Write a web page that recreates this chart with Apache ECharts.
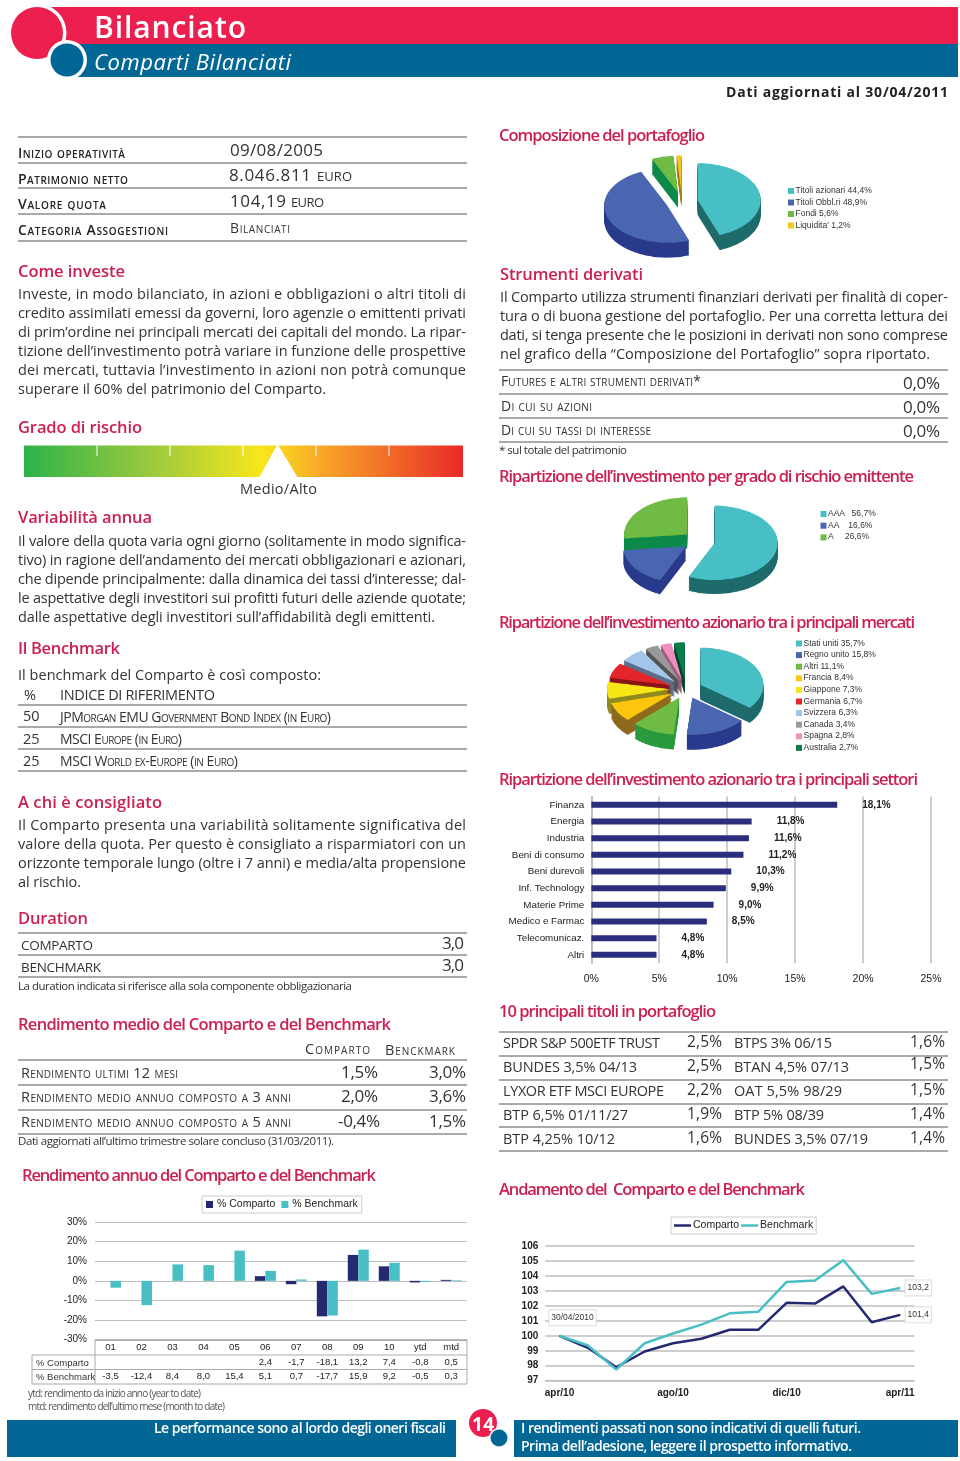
<!DOCTYPE html>
<html>
<head>
<meta charset="utf-8">
<title>Bilanciato</title>
<script src="https://cdn.jsdelivr.net/npm/echarts@6/dist/echarts.min.js"></script>
<style>
body { margin: 0; background: #fff; }
#page { position: relative; width: 960px; height: 1461px; overflow: hidden; background: #fff; }
#main { position: absolute; left: 0; top: 0; width: 960px; height: 1461px; }
.pie { position: absolute; width: 240px; height: 260px; transform-origin: 0 0; pointer-events: none; }
.t { position: absolute; white-space: pre; transform: translateY(-50%); font-family: "Open Sans", sans-serif; font-size: 14.5px; color: #333; line-height: 1.1; }
.h { font-size: 16.5px; font-weight: 600; color: #cc2050; }
.sc { font-variant: small-caps; font-size: 14px; }
.sl { font-size: 14.5px; }
.b { font-weight: 600; color: #222; }
.n { font-size: 17px; }
.s { font-size: 11.5px; color: #333; }
.a { font-family: "Liberation Sans", sans-serif; font-size: 8.5px; color: #333; }
.w { color: #fff; font-weight: 600; font-size: 14px; }
.pct { font-size: 15.5px; }
.eu { font-size: 13px; }
.nt { font-size: 10px; color: #555; }
</style>
</head>
<body>
<div id="page">
  <div id="main"></div>
</div>
<script>
// settori
const sectorNames = ["Finanza", "Energia", "Industria", "Beni di consumo", "Beni durevoli", "Inf. Technology", "Materie Prime", "Medico e Farmac", "Telecomunicaz.", "Altri"];
const sectorValues = [18.1, 11.8, 11.6, 11.2, 10.3, 9.9, 9.0, 8.5, 4.8, 4.8];

// rendimento annuo
const periods = ["01", "02", "03", "04", "05", "06", "07", "08", "09", "10", "ytd", "mtd"];
const annualComparto = [null, null, null, null, null, 2.4, -1.7, -18.1, 13.2, 7.4, -0.8, 0.5];
const annualBenchmark = [-3.5, -12.4, 8.4, 8.0, 15.4, 5.1, 0.7, -17.7, 15.9, 9.2, -0.5, 0.3];

// andamento
const months = ["apr/10", "mag/10", "giu/10", "lug/10", "ago/10", "set/10", "ott/10", "nov/10", "dic/10", "gen/11", "feb/11", "mar/11", "apr/11"];
const navComparto = [100, 99.2, 97.9, 98.95, 99.5, 99.8, 100.4, 100.4, 102.2, 102.15, 103.3, 100.9, 101.4];
const navBenchmark = [100, 99.35, 97.75, 99.5, 100.15, 100.75, 101.5, 101.6, 103.6, 103.7, 105.05, 102.8, 103.2];
const startDate = "30/04/2010";

// torte
const portfolioNames = ["Titoli azionari", "Titoli Obbl.ri", "Fondi", "Liquidita'"];
const portfolioValues = [44.4, 48.9, 5.6, 1.2];
const portfolioColors = ["#48bfc4", "#4a66b0", "#6fbb44", "#f2c81c"];
const portfolioWalls = ["#1f6b6c", "#2a3a8c", "#0d8a4a", "#a87f10"];

const ratingNames = ["AAA  ", "AA   ", "A    "];
const ratingValues = [56.7, 16.6, 26.6];
const ratingColors = ["#48bfc4", "#4a66b0", "#6fbb44"];
const ratingWalls = ["#1f6b6c", "#2a3a8c", "#0d8a4a"];

const marketNames = ["Stati uniti", "Regno unito", "Altri", "Francia", "Giappone", "Germania", "Svizzera", "Canada", "Spagna", "Australia"];
const marketValues = [35.7, 15.8, 11.1, 8.4, 7.3, 6.7, 6.3, 3.4, 2.8, 2.7];
const marketColors = ["#48bfc4", "#4a66b0", "#6fbb44", "#fcc60e", "#f7e616", "#e3262a", "#a3c6e8", "#999999", "#ee8fc0", "#0a7d48"];
const marketWalls = ["#1f6b6c", "#2a3a8c", "#2a9a3e", "#8f6a1c", "#8f8a20", "#8a1518", "#5a6e8a", "#555555", "#a05c80", "#064a2b"];

const ARIAL = '"Liberation Sans", sans-serif';
const GRID_GREY = "#bdbdbd";
const comma = v => (v === null ? "" : v.toFixed(1).replace(".", ","));

const page = document.getElementById("page");

// testo posizionato, w = larghezza da rispettare
function T(x, y, w, cls, txt, css) {
  const d = document.createElement("div");
  d.className = "t " + cls;
  d.style.cssText = "left:" + x + "px;top:" + y + "px;" + (css || "");
  d.textContent = txt;
  page.appendChild(d);
  if (w) {
    const gap = (w - d.getBoundingClientRect().width) / (txt.length - 1);
    d.style.letterSpacing = gap + "px";
  }
  return d;
}

function rule(x1, x2, y, color) {
  return { type: "line", silent: true, shape: { x1: x1, y1: y, x2: x2, y2: y }, style: { stroke: color || "#555", lineWidth: 1 } };
}
function vrule(x, y1, y2, color) {
  return { type: "line", silent: true, shape: { x1: x, y1: y1, x2: x, y2: y2 }, style: { stroke: color || "#999", lineWidth: 1 } };
}
function box(x, y, w, h, fill) {
  return { type: "rect", silent: true, shape: { x: x, y: y, width: w, height: h }, style: { fill: fill } };
}
function disc(x, y, r, fill) {
  return { type: "circle", silent: true, shape: { cx: x, cy: y, r: r }, style: { fill: fill } };
}

const RED = "#ec1f4e";
const BLUE = "#036796";

const shapes = [
  // testata
  box(40, 7, 918, 37, RED),
  disc(37, 33, 29.5, "#fff"),
  disc(37, 33, 26, RED),
  box(70, 44, 888, 33, BLUE),
  disc(67, 60, 20, "#fff"),
  disc(67, 60, 16.5, BLUE),
  // piede
  box(7, 1420, 449, 37, BLUE),
  box(514, 1420, 444, 37, BLUE),
  disc(483, 1423, 14, RED),
  disc(499, 1438, 10, "#fff"),
  disc(499, 1438, 8.5, BLUE),
  // grado di rischio
  {
    type: "rect", silent: true, shape: { x: 24, y: 445.5, width: 439, height: 31.5 },
    style: {
      fill: new echarts.graphic.LinearGradient(0, 0, 1, 0, [
        { offset: 0, color: "#2db34a" },
        { offset: 0.3, color: "#9fca3c" },
        { offset: 0.54, color: "#f8e71c" },
        { offset: 0.68, color: "#f8a628" },
        { offset: 1, color: "#e92a27" }
      ])
    }
  },
  { type: "polygon", silent: true, shape: { points: [[277.5, 444], [259, 478], [298, 478]] }, style: { fill: "#fff" } },
  vrule(97, 445, 456, "#fff"), vrule(170, 445, 456, "#fff"), vrule(243, 445, 456, "#fff"), vrule(316, 445, 456, "#fff"), vrule(389, 445, 456, "#fff"),
  // tabella anagrafica
  rule(18, 467, 137), rule(18, 467, 163), rule(18, 467, 188), rule(18, 467, 214), rule(18, 467, 241),
  // benchmark
  rule(18, 467, 705), rule(18, 467, 727), rule(18, 467, 749), rule(18, 467, 771),
  // duration
  rule(18, 467, 933), rule(18, 467, 955), rule(18, 467, 977),
  // rendimento medio
  rule(18, 467, 1060), rule(18, 467, 1085), rule(18, 467, 1110), rule(18, 467, 1134),
  // derivati
  rule(499, 948, 370), rule(499, 948, 394), rule(499, 948, 418), rule(499, 948, 442),
  // titoli
  rule(499, 948, 1032), rule(499, 948, 1056), rule(499, 948, 1080), rule(499, 948, 1104), rule(499, 948, 1127), rule(499, 948, 1151),
  // tabella rendimento annuo
  rule(95, 467, 1340), rule(32, 467, 1355, "#aaa"), rule(32, 467, 1369.5, "#aaa"), rule(32, 467, 1384, "#aaa"),
  vrule(32, 1355, 1384, "#aaa"), vrule(95, 1340, 1384, "#aaa"), vrule(467, 1340, 1384, "#aaa")
];

// legende delle torte
function pieLegend(x, y, step, names, values, colors) {
  names.forEach((n, i) => {
    shapes.push(box(x, y + i * step - 3, 6, 6, colors[i]));
    T(x + 7.5, y + i * step, 0, "a", n + " " + comma(values[i]) + "%");
  });
}

pieLegend(788, 191, 11.5, portfolioNames, portfolioValues, portfolioColors);
pieLegend(820.5, 514, 11.7, ratingNames, ratingValues, ratingColors);
pieLegend(796, 643.5, 11.6, marketNames, marketValues, marketColors);

const myChart = echarts.init(document.getElementById("main"));

const axisText = { fontFamily: ARIAL, fontSize: 10, color: "#222" };

function tableAxis(offset, values) {
  return {
    type: "category", gridIndex: 1, position: "bottom", offset: offset, data: periods,
    axisLine: { show: false, onZero: false }, axisTick: { show: false },
    axisLabel: { ...axisText, fontSize: 9.5, interval: 0, margin: 0, formatter: (v, i) => comma(values[i]) }
  };
}

const endLabel = { show: true, position: "right", distance: 5, formatter: p => comma(p.value), fontFamily: ARIAL, fontSize: 8.5, color: "#333", backgroundColor: "#fff", borderColor: "#ddd", borderWidth: 1, padding: [3, 2] };

myChart.setOption({
  animation: false,
  graphic: { elements: shapes },
  legend: [
    {
      data: ["% Comparto", "% Benchmark"], left: 202, top: 1196, selectedMode: false, icon: "rect",
      itemWidth: 7, itemHeight: 7, itemGap: 6, padding: [3, 4], borderColor: "#ccc", borderWidth: 1,
      textStyle: { fontFamily: ARIAL, fontSize: 10.5, color: "#222", padding: [0, 0, 0, -1] }
    },
    {
      data: [{ name: "Comparto", icon: "rect" }, { name: "Benchmark", icon: "rect" }], left: 671, top: 1217, selectedMode: false,
      itemWidth: 17, itemHeight: 2.5, itemGap: 2, padding: [3, 3], borderColor: "#ccc", borderWidth: 1,
      textStyle: { fontFamily: ARIAL, fontSize: 10.5, color: "#222", padding: [0, 0, 0, -3] }
    }
  ],
  grid: [
    { left: 591.3, top: 796.5, width: 339.7, height: 166.7 },
    { left: 95, top: 1222, width: 371.7, height: 117.7 },
    { left: 545.3, top: 1246, width: 369, height: 134.7 }
  ],
  xAxis: [
    {
      type: "value", gridIndex: 0, min: 0, max: 25, interval: 5,
      axisLine: { show: false }, axisTick: { show: false },
      splitLine: { lineStyle: { color: GRID_GREY, width: 1.5 } },
      axisLabel: { ...axisText, fontSize: 10.5, margin: 10.5, formatter: "{value}%" }
    },
    {
      type: "category", gridIndex: 1, data: periods, position: "bottom",
      axisLine: { show: false, onZero: false }, axisTick: { show: false },
      axisLabel: { ...axisText, fontSize: 9.5, interval: 0, margin: 3 }
    },
    tableAxis(18, annualComparto),
    tableAxis(32, annualBenchmark),
    {
      type: "category", gridIndex: 2, data: months,
      axisLine: { lineStyle: { color: GRID_GREY, width: 1 } },
      axisTick: { interval: 3, length: 3, lineStyle: { color: GRID_GREY } },
      axisLabel: { ...axisText, fontWeight: "bold", interval: 3, margin: 8 }
    }
  ],
  yAxis: [
    {
      type: "category", gridIndex: 0, inverse: true, data: sectorNames,
      axisLine: { lineStyle: { color: GRID_GREY, width: 1.5 } }, axisTick: { show: false },
      axisLabel: { ...axisText, fontSize: 9.8, interval: 0, margin: 7 }
    },
    {
      type: "value", gridIndex: 1, min: -30, max: 30, interval: 10,
      axisLine: { show: false }, axisTick: { show: false },
      splitLine: { lineStyle: { color: GRID_GREY, width: 1 } },
      axisLabel: { ...axisText, margin: 8, formatter: "{value}%" }
    },
    {
      type: "value", gridIndex: 2, min: 97, max: 106, interval: 1,
      axisLine: { show: false }, axisTick: { show: false },
      splitLine: { lineStyle: { color: GRID_GREY, width: 1.5 } },
      axisLabel: { ...axisText, fontWeight: "bold", margin: 7 }
    }
  ],
  series: [
    {
      name: "Settori", type: "bar", xAxisIndex: 0, yAxisIndex: 0, data: sectorValues, barWidth: 6,
      itemStyle: { color: "#2b2e7c" },
      label: { show: true, position: "right", distance: 25, formatter: p => comma(p.value) + "%", fontFamily: ARIAL, fontSize: 10, fontWeight: "bold", color: "#222" }
    },
    { name: "% Comparto", type: "bar", xAxisIndex: 1, yAxisIndex: 1, data: annualComparto, barWidth: 10.5, barGap: 0, itemStyle: { color: "#25296f" } },
    { name: "% Benchmark", type: "bar", xAxisIndex: 1, yAxisIndex: 1, data: annualBenchmark, barWidth: 10.5, barGap: 0, itemStyle: { color: "#48bfc4" } },
    {
      name: "Comparto", type: "line", xAxisIndex: 4, yAxisIndex: 2, symbol: "circle", symbolSize: 1, showAllSymbol: true,
      lineStyle: { color: "#25296f", width: 2.5 }, itemStyle: { color: "#25296f" },
      data: navComparto.map((v, i) => (i === navComparto.length - 1 ? { value: v, label: endLabel } : v))
    },
    {
      name: "Benchmark", type: "line", xAxisIndex: 4, yAxisIndex: 2, symbol: "circle", symbolSize: 1, showAllSymbol: true,
      lineStyle: { color: "#48bfc4", width: 2.5 }, itemStyle: { color: "#48bfc4" },
      data: navBenchmark.map((v, i) => {
        if (i === navBenchmark.length - 1) return { value: v, label: endLabel };
        if (i === 0) return { value: v, label: { ...endLabel, position: "top", distance: 4, offset: [13, -6], formatter: startDate } };
        return v;
      })
    }
  ]
});

// torta con spessore: strati sovrapposti, schiacciati via css
function addPie(cx, cy, names, values, colors, walls, depth) {
  const k = 0.59;
  const dom = document.createElement("div");
  dom.className = "pie";
  dom.style.left = cx - 120 + "px";
  dom.style.top = cy - 110 * k + "px";
  dom.style.transform = "scaleY(" + k + ")";
  page.appendChild(dom);
  const layer = (dy, palette) => ({
    type: "pie", center: [120, 110 + dy], radius: 63, startAngle: 90, clockwise: true,
    selectedMode: "multiple", selectedOffset: 16, silent: true,
    label: { show: false }, labelLine: { show: false },
    data: values.map((v, i) => ({ name: names[i], value: v, selected: true, itemStyle: { color: palette[i] }, select: { itemStyle: { color: palette[i] } } }))
  });
  const series = [];
  for (let i = depth; i > 0; i--) series.push(layer(i / k, walls));
  series.push(layer(0, colors));
  echarts.init(dom).setOption({ animation: false, series: series });
}

addPie(681.6, 201.6, portfolioNames, portfolioValues, portfolioColors, portfolioWalls, 15);
addPie(698.6, 541, ratingNames, ratingValues, ratingColors, ratingWalls, 14);
addPie(685.6, 689, marketNames, marketValues, marketColors, marketWalls, 15);

// testata
T(94, 26, 152, "b", "Bilanciato", "font-size:30px;color:#fff;");
T(94, 61, 197, "", "Comparti Bilanciati", "font-size:22px;font-style:italic;color:#fff;");
T(726, 92, 222, "b", "Dati aggiornati al 30/04/2011", "font-size:14px;font-weight:700;");

// anagrafica
T(18, 153, 107, "sc b", "Inizio operatività");
T(18, 179, 110, "sc b", "Patrimonio netto");
T(18, 204, 88, "sc b", "Valore quota");
T(18, 230, 150, "sc b", "Categoria Assogestioni");
T(230, 150, 93, "n", "09/08/2005");
T(229, 175, 82, "n", "8.046.811");
T(317, 176, 35, "eu", "EURO");
T(230, 201, 56, "n", "104,19");
T(291, 202, 33, "eu", "EURO");
T(230, 228, 60, "sc", "Bilanciati");

// colonna sinistra
T(18, 271, 107, "h", "Come investe");
T(18, 294, 448, "", "Investe, in modo bilanciato, in azioni e obbligazioni o altri titoli di");
T(18, 313, 448, "", "credito assimilati emessi da governi, loro agenzie o emittenti privati");
T(18, 332, 448, "", "di prim’ordine nei principali mercati dei capitali del mondo. La ripar-");
T(18, 351, 448, "", "tizione dell’investimento potrà variare in funzione delle prospettive");
T(18, 370, 448, "", "dei mercati, tuttavia l’investimento in azioni non potrà comunque");
T(18, 389, 308, "", "superare il 60% del patrimonio del Comparto.");

T(18, 427, 124, "h", "Grado di rischio");
T(240, 489, 77, "", "Medio/Alto");

T(18, 517, 134, "h", "Variabilità annua");
T(18, 541, 448, "", "Il valore della quota varia ogni giorno (solitamente in modo significa-");
T(18, 560, 448, "", "tivo) in ragione dell’andamento dei mercati obbligazionari e azionari,");
T(18, 579, 448, "", "che dipende principalmente: dalla dinamica dei tassi d’interesse; dal-");
T(18, 598, 448, "", "le aspettative degli investitori sui profitti futuri delle aziende quotate;");
T(18, 617, 417, "", "dalle aspettative degli investitori sull’affidabilità degli emittenti.");

T(18, 648, 102, "h", "Il Benchmark");
T(18, 675, 303, "", "Il benchmark del Comparto è così composto:");
T(24, 695, 0, "", "%");
T(60, 695, 155, "", "INDICE DI RIFERIMENTO");
T(23, 716, 0, "", "50");
T(60, 717, 271, "sc", "JPMorgan EMU Government Bond Index (in Euro)");
T(23, 739, 0, "", "25");
T(60, 739, 122, "sc", "MSCI Europe (in Euro)");
T(23, 761, 0, "", "25");
T(60, 761, 178, "sc", "MSCI World ex-Europe (in Euro)");

T(18, 802, 144, "h", "A chi è consigliato");
T(18, 825, 448, "", "Il Comparto presenta una variabilità solitamente significativa del");
T(18, 844, 448, "", "valore della quota. Per questo è consigliato a risparmiatori con un");
T(18, 863, 448, "", "orizzonte temporale lungo (oltre i 7 anni) e media/alta propensione");
T(18, 882, 63, "", "al rischio.");

T(18, 918, 70, "h", "Duration");
T(21, 945, 72, "", "COMPARTO", "font-size:13.5px;");
T(442, 943, 22, "n", "3,0");
T(21, 967, 80, "", "BENCHMARK", "font-size:13.5px;");
T(442, 965, 22, "n", "3,0");
T(18, 986, 334, "s", "La duration indicata si riferisce alla sola componente obbligazionaria");

T(18, 1024, 373, "h", "Rendimento medio del Comparto e del Benchmark");
T(305, 1049, 65, "sc sl", "Comparto");
T(385, 1050, 70, "sc sl", "Benckmark");
T(21, 1073, 157, "sc sl", "Rendimento ultimi 12 mesi");
T(341, 1072, 37, "n", "1,5%");
T(429, 1072, 37, "n", "3,0%");
T(21, 1097, 270, "sc sl", "Rendimento medio annuo composto a 3 anni");
T(341, 1096, 37, "n", "2,0%");
T(429, 1096, 37, "n", "3,6%");
T(21, 1122, 270, "sc sl", "Rendimento medio annuo composto a 5 anni");
T(338, 1121, 42, "n", "-0,4%");
T(429, 1121, 37, "n", "1,5%");
T(18, 1141, 316, "s", "Dati aggiornati all’ultimo trimestre solare concluso (31/03/2011).");

T(22, 1175, 354, "h", "Rendimento annuo del Comparto e del Benchmark");
T(36, 1363, 0, "a", "% Comparto", "font-size:9.5px;");
T(36, 1377, 0, "a", "% Benchmark", "font-size:9.5px;");
T(28, 1393, 173, "nt", "ytd: rendimento da inizio anno (year to date)");
T(28, 1406, 197, "nt", "mtd: rendimento dell’ultimo mese (month to date)");

// colonna destra
T(499, 135, 206, "h", "Composizione del portafoglio");
T(500, 274, 143, "h", "Strumenti derivati");
T(500, 297, 448, "", "Il Comparto utilizza strumenti finanziari derivati per finalità di coper-");
T(500, 316, 448, "", "tura o di buona gestione del portafoglio. Per una corretta lettura dei");
T(500, 335, 448, "", "dati, si tenga presente che le posizioni in derivati non sono comprese");
T(500, 354, 430, "", "nel grafico della “Composizione del Portafoglio” sopra riportato.");
T(501, 381, 200, "sc", "Futures e altri strumenti derivati*");
T(903, 383, 37, "n", "0,0%");
T(501, 406, 91, "sc", "Di cui su azioni");
T(903, 407, 37, "n", "0,0%");
T(501, 430, 150, "sc", "Di cui su tassi di interesse");
T(903, 431, 37, "n", "0,0%");
T(499, 450, 128, "s", "* sul totale del patrimonio");

T(499, 476, 415, "h", "Ripartizione dell’investimento per grado di rischio emittente");
T(499, 622, 416, "h", "Ripartizione dell’investimento azionario tra i principali mercati");
T(499, 779, 419, "h", "Ripartizione dell’investimento azionario tra i principali settori");
T(499, 1011, 217, "h", "10 principali titoli in portafoglio");

T(503, 1043, 157, "", "SPDR S&P 500ETF TRUST");
T(687, 1042, 35, "pct", "2,5%");
T(734, 1043, 98, "", "BTPS 3% 06/15");
T(910, 1042, 35, "pct", "1,6%");
T(503, 1067, 134, "", "BUNDES 3,5% 04/13");
T(687, 1066, 35, "pct", "2,5%");
T(734, 1067, 115, "", "BTAN 4,5% 07/13");
T(910, 1064, 35, "pct", "1,5%");
T(503, 1091, 161, "", "LYXOR ETF MSCI EUROPE");
T(687, 1090, 35, "pct", "2,2%");
T(734, 1091, 108, "", "OAT 5,5% 98/29");
T(910, 1090, 35, "pct", "1,5%");
T(503, 1115, 125, "", "BTP 6,5% 01/11/27");
T(687, 1114, 35, "pct", "1,9%");
T(734, 1115, 90, "", "BTP 5% 08/39");
T(910, 1114, 35, "pct", "1,4%");
T(503, 1139, 112, "", "BTP 4,25% 10/12");
T(687, 1138, 35, "pct", "1,6%");
T(734, 1139, 134, "", "BUNDES 3,5% 07/19");
T(910, 1138, 35, "pct", "1,4%");

T(499, 1189, 306, "h", "Andamento del  Comparto e del Benchmark");

// piede
T(154, 1428, 292, "w", "Le performance sono al lordo degli oneri fiscali");
T(472, 1424, 22, "b", "14", "color:#fff;font-size:19px;font-weight:700;");
T(521, 1428, 340, "w", "I rendimenti passati non sono indicativi di quelli futuri.");
T(521, 1446, 331, "w", "Prima dell’adesione, leggere il prospetto informativo.");
</script>
</body>
</html>
